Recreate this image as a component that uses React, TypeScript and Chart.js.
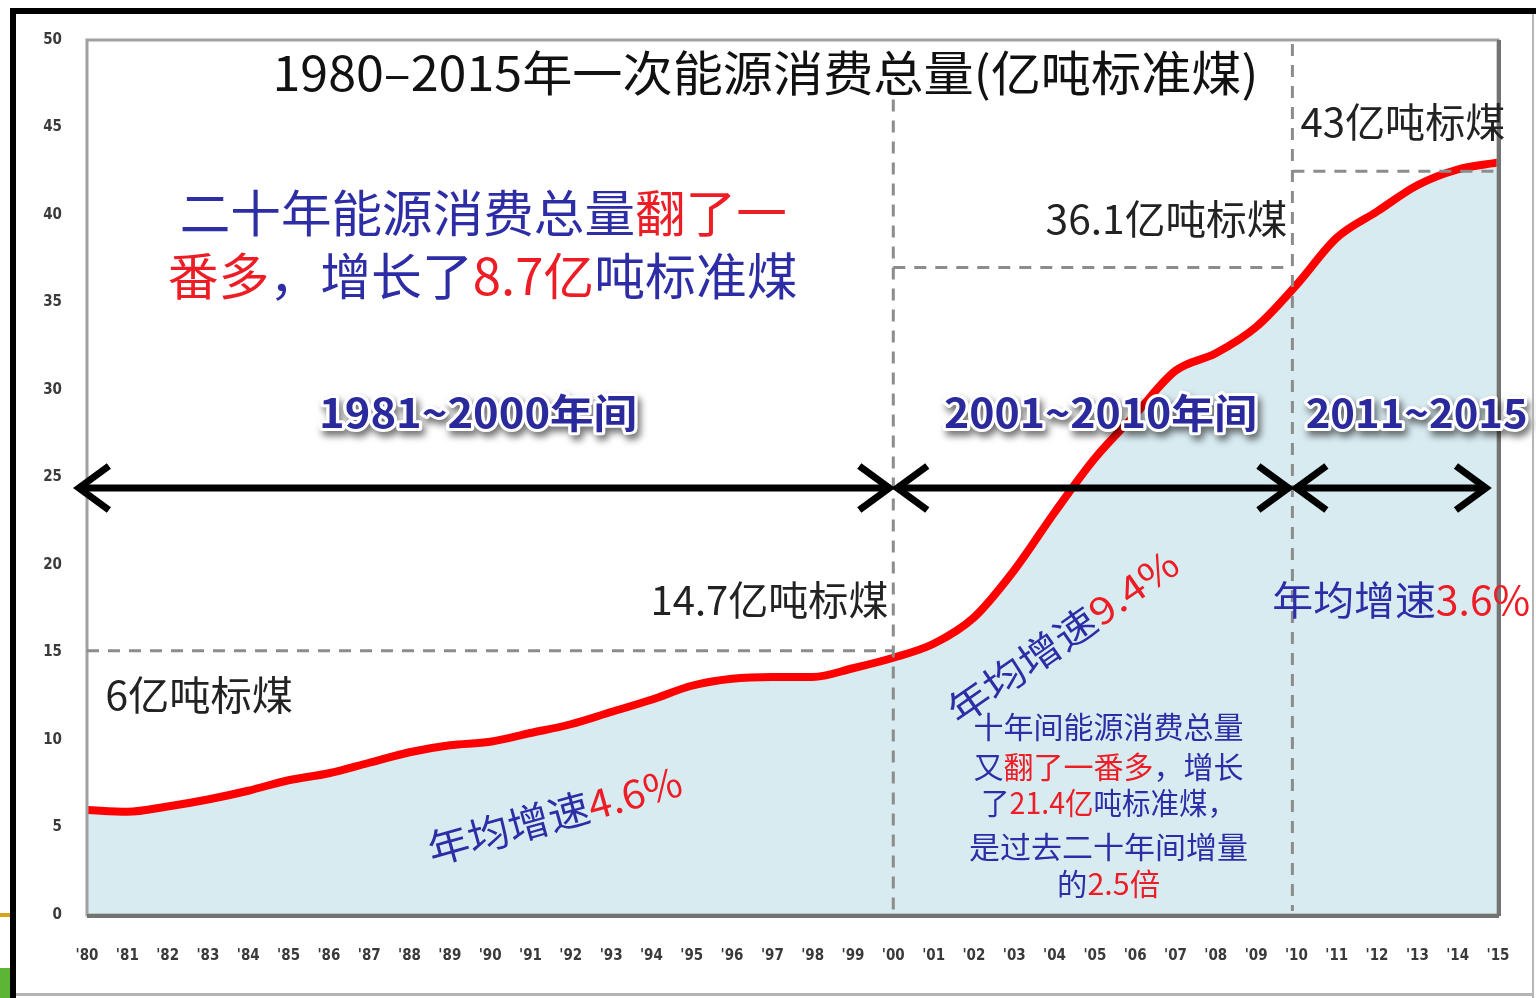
import React, { useEffect, useRef } from "react";
import { Chart, registerables } from "chart.js";

Chart.register(...registerables);

// ---- data ----
const years = [
  1980, 1981, 1982, 1983, 1984, 1985, 1986, 1987, 1988, 1989,
  1990, 1991, 1992, 1993, 1994, 1995, 1996, 1997, 1998, 1999,
  2000, 2001, 2002, 2003, 2004, 2005, 2006, 2007, 2008, 2009,
  2010, 2011, 2012, 2013, 2014, 2015,
];
const consumption = [
  6.0, 5.9, 6.2, 6.6, 7.1, 7.7, 8.1, 8.7, 9.3, 9.7,
  9.9, 10.4, 10.9, 11.6, 12.3, 13.1, 13.5, 13.6, 13.6, 14.1,
  14.7, 15.5, 17.0, 19.7, 23.0, 26.1, 28.6, 31.1, 32.1, 33.6,
  36.0, 38.7, 40.2, 41.7, 42.6, 43.0,
];
const yTicks = [0, 5, 10, 15, 20, 25, 30, 35, 40, 45, 50];
const xTickLabels = years.map((y) => "'" + String(y).slice(2));
const periodBounds = [1979.7, 2000, 2009.9, 2014.8];
const periodLabels = ["1981~2000年间", "2001~2010年间", "2011~2015"];
const guideLevels = [15.1, 37.0, 42.5];
const levelLabels = ["6亿吨标煤", "14.7亿吨标煤", "36.1亿吨标煤", "43亿吨标煤"];
const growthRates = ["4.6%", "9.4%", "3.6%"];

const TITLE = "1980–2015年一次能源消费总量(亿吨标准煤)";
const BLUE = "#2d2da6";
const RED = "#ee1c25";
const CJK = "'Noto Sans CJK SC', 'Noto Sans', sans-serif";

type Run = [string, string];

function drawRuns(
  ctx: CanvasRenderingContext2D,
  runs: Run[],
  x: number,
  y: number,
  font: string,
  align: "left" | "center" | "right",
  width?: number,
  angle = 0,
  outline = false
) {
  ctx.save();
  ctx.font = font;
  ctx.textBaseline = "middle";
  ctx.textAlign = "left";
  const widths = runs.map((r) => ctx.measureText(r[0]).width);
  const total = widths.reduce((a, b) => a + b, 0);
  const sx = width ? width / total : 1;
  ctx.translate(x, y);
  ctx.rotate(angle);
  ctx.scale(sx, 1);
  let cx = align === "left" ? 0 : align === "center" ? -total / 2 : -total;
  const start = cx;
  if (outline) {
    ctx.save();
    ctx.shadowColor = "rgba(0,0,0,0.55)";
    ctx.shadowBlur = 7;
    ctx.shadowOffsetX = 3;
    ctx.shadowOffsetY = 5;
    ctx.strokeStyle = "#ffffff";
    ctx.lineWidth = 6;
    ctx.lineJoin = "round";
    runs.forEach((r, i) => {
      ctx.strokeText(r[0], cx, 0);
      cx += widths[i];
    });
    ctx.restore();
    cx = start;
  }
  runs.forEach((r, i) => {
    ctx.fillStyle = r[1];
    ctx.fillText(r[0], cx, 0);
    cx += widths[i];
  });
  ctx.restore();
}

const annotationPlugin = {
  id: "annotations",
  afterDatasetsDraw(chart: any) {
    const { ctx, chartArea: a, scales } = chart;
    const X = (v: number) => scales.x.getPixelForValue(v);
    const Y = (v: number) => scales.y.getPixelForValue(v);

    // plot border
    ctx.save();
    ctx.strokeStyle = "#a0a0a0";
    ctx.lineWidth = 3;
    ctx.strokeRect(a.left, a.top, a.right - a.left, a.bottom - a.top);
    ctx.strokeStyle = "#737373";
    ctx.lineWidth = 4;
    ctx.beginPath();
    ctx.moveTo(a.left, a.bottom + 1);
    ctx.lineTo(a.right + 1, a.bottom + 1);
    ctx.moveTo(a.right + 1, a.top);
    ctx.lineTo(a.right + 1, a.bottom + 1);
    ctx.stroke();
    ctx.restore();

    // dashed guides
    ctx.save();
    ctx.strokeStyle = "#8c8c8c";
    ctx.lineWidth = 3;
    ctx.setLineDash([12, 9]);
    const seg = (x1: number, y1: number, x2: number, y2: number) => {
      ctx.beginPath();
      ctx.moveTo(x1, y1);
      ctx.lineTo(x2, y2);
      ctx.stroke();
    };
    seg(X(periodBounds[1]), Y(46.6), X(periodBounds[1]), a.bottom - 4);
    seg(X(periodBounds[2]), a.top + 4, X(periodBounds[2]), a.bottom - 4);
    seg(a.left, Y(guideLevels[0]), X(periodBounds[1]), Y(guideLevels[0]));
    seg(X(periodBounds[1]), Y(guideLevels[1]), X(periodBounds[2]), Y(guideLevels[1]));
    seg(X(periodBounds[2]), Y(guideLevels[2]), a.right, Y(guideLevels[2]));
    ctx.restore();

    // arrows
    ctx.save();
    ctx.strokeStyle = "#000000";
    ctx.lineWidth = 7;
    ctx.lineJoin = "miter";
    ctx.lineCap = "butt";
    const ay = Y(24.4);
    for (let i = 0; i < 3; i++) {
      const x1 = X(periodBounds[i]);
      const x2 = X(periodBounds[i + 1]);
      ctx.beginPath();
      ctx.moveTo(x1 + 3, ay);
      ctx.lineTo(x2 - 3, ay);
      ctx.stroke();
      ctx.beginPath();
      ctx.moveTo(x1 + 34, ay - 22);
      ctx.lineTo(x1 + 4, ay);
      ctx.lineTo(x1 + 34, ay + 22);
      ctx.stroke();
      ctx.beginPath();
      ctx.moveTo(x2 - 34, ay - 22);
      ctx.lineTo(x2 - 4, ay);
      ctx.lineTo(x2 - 34, ay + 22);
      ctx.stroke();
    }
    ctx.restore();

    // title
    drawRuns(ctx, [[TITLE, "#111111"]], X(1996.83), Y(48.1), `48px ${CJK}`, "center", 986);

    // headline text
    drawRuns(
      ctx,
      [["二十年能源消费总量", BLUE], ["翻了一", RED]],
      X(1982.3), Y(40.1), `50px ${CJK}`, "left", 607
    );
    drawRuns(
      ctx,
      [["番多", RED], ["，增长了", BLUE], ["8.7亿", RED], ["吨标准煤", BLUE]],
      X(1982.0), Y(36.5), `50px ${CJK}`, "left", 630
    );

    // level labels
    const dark = "#222222";
    drawRuns(ctx, [[levelLabels[0], dark]], X(1980.45), Y(12.57), `40px ${CJK}`, "left", 188);
    drawRuns(ctx, [[levelLabels[1], dark]], X(1999.88), Y(18.0), `40px ${CJK}`, "right", 238);
    drawRuns(ctx, [[levelLabels[2], dark]], X(2009.78), Y(39.8), `40px ${CJK}`, "right", 242);
    drawRuns(ctx, [[levelLabels[3], dark]], X(2010.1), Y(45.3), `40px ${CJK}`, "left", 205);

    // period labels
    const pf = `bold 40px ${CJK}`;
    drawRuns(ctx, [[periodLabels[0], "#2a2a9c"]], X(1989.7), Y(28.7), pf, "center", 318, 0, true);
    drawRuns(ctx, [[periodLabels[1], "#2a2a9c"]], X(2005.14), Y(28.7), pf, "center", 313, 0, true);
    drawRuns(ctx, [[periodLabels[2], "#2a2a9c"]], X(2010.23), Y(28.7), pf, "left", 222, 0, true);

    // growth rates
    drawRuns(
      ctx,
      [["年均增速", BLUE], [growthRates[0], RED]],
      X(1991.6), Y(5.7), `40px ${CJK}`, "center", 262, (-15.5 * Math.PI) / 180
    );
    drawRuns(
      ctx,
      [["年均增速", BLUE], [growthRates[1], RED]],
      X(2004.2), Y(15.9), `38px ${CJK}`, "center", 272, (-35 * Math.PI) / 180
    );
    drawRuns(
      ctx,
      [["年均增速", BLUE], [growthRates[2], RED]],
      X(2009.4), Y(18.0), `40px ${CJK}`, "left", 258
    );

    // paragraph
    const para: [Run[], number, number][] = [
      [[["十年间能源消费总量", BLUE]], 10.74, 270],
      [[["又", BLUE], ["翻了一番多", RED], ["，增长", BLUE]], 8.46, 270],
      [[["了", BLUE], ["21.4亿", RED], ["吨标准煤，", BLUE]], 6.4, 255],
      [[["是过去二十年间增量", BLUE]], 3.89, 279],
      [[["的", BLUE], ["2.5倍", RED]], 1.77, 103],
    ];
    para.forEach(([runs, v, w]) => {
      drawRuns(ctx, runs, X(2005.34), Y(v), `30px ${CJK}`, "center", w);
    });
  },
  afterDraw(chart: any) {
    const { ctx } = chart;
    ctx.save();
    ctx.fillStyle = "#000000";
    ctx.fillRect(10, 8, 1526, 6);
    ctx.fillRect(10, 8, 6, 990);
    ctx.fillStyle = "#b5b5b5";
    ctx.fillRect(1532, 14, 2, 984);
    ctx.fillRect(16, 993, 1518, 3);
    ctx.fillStyle = "#d9a21b";
    ctx.fillRect(0, 913, 10, 4);
    ctx.fillStyle = "#5db534";
    ctx.fillRect(0, 968, 10, 30);
    ctx.restore();
  },
};

const tickFont = { family: "'DejaVu Sans Condensed', 'DejaVu Sans', sans-serif", size: 15, weight: "bold" };

export default function App() {
  const ref = useRef<HTMLCanvasElement | null>(null);

  useEffect(() => {
    if (!ref.current) return;
    const chart = new Chart(ref.current, {
      type: "line",
      data: {
        datasets: [
          {
            data: years.map((yr, i) => ({ x: yr, y: consumption[i] })),
            borderColor: "#ff0000",
            borderWidth: 8,
            backgroundColor: "#d8ebf1",
            fill: "origin",
            pointRadius: 0,
            cubicInterpolationMode: "monotone",
            borderCapStyle: "round",
          },
        ],
      },
      options: {
        animation: false,
        responsive: false,
        devicePixelRatio: 1,
        layout: { padding: { top: 40, right: 38, left: 0, bottom: 0 } },
        plugins: {
          legend: { display: false },
          tooltip: { enabled: false },
        },
        events: [],
        scales: {
          x: {
            type: "linear",
            min: 1980,
            max: 2015,
            grid: { display: false, drawTicks: true, tickLength: 30 },
            border: { display: false },
            afterFit: (s: any) => {
              s.height = 83;
            },
            ticks: {
              stepSize: 1,
              autoSkip: false,
              maxRotation: 0,
              padding: 2,
              color: "#3a3a3a",
              font: tickFont,
              callback: (v: any) => {
                const i = years.indexOf(Number(v));
                return i >= 0 ? xTickLabels[i] : "";
              },
            },
          },
          y: {
            min: yTicks[0],
            max: yTicks[yTicks.length - 1],
            grid: { display: false, drawTicks: false },
            border: { display: false },
            afterFit: (s: any) => {
              s.width = 87;
            },
            afterBuildTicks: (s: any) => {
              s.ticks = yTicks.map((v) => ({ value: v }));
            },
            ticks: {
              padding: 25,
              color: "#3a3a3a",
              font: tickFont,
            },
          },
        },
      },
      plugins: [annotationPlugin],
    } as any);
    return () => chart.destroy();
  }, []);

  return (
    <div style={{ position: "absolute", left: 0, top: 0, width: 1536, height: 998, background: "#ffffff" }}>
      <canvas ref={ref} width={1536} height={998} style={{ display: "block" }} />
    </div>
  );
}
